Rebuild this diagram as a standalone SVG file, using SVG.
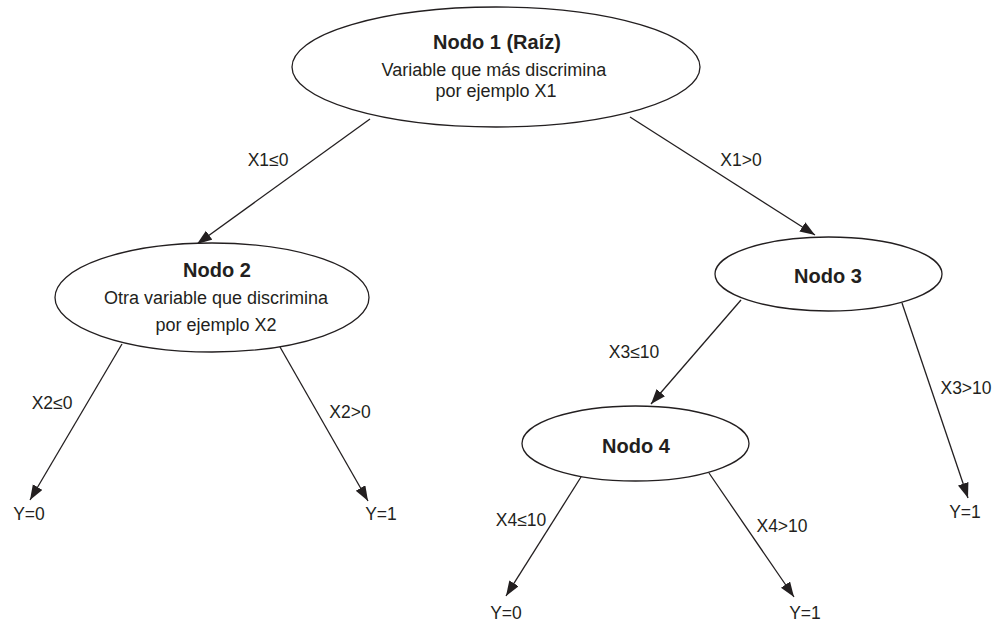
<svg xmlns="http://www.w3.org/2000/svg" width="995" height="625" viewBox="0 0 995 625">
<style>
.node ellipse{fill:#fff;stroke:#231f20;stroke-width:1.3}
text{font-family:"Liberation Sans",Arial,sans-serif;fill:#231f20;text-anchor:middle}
.t{font-size:20px;font-weight:bold}
.s{font-size:18px}
.lbl{font-size:17.5px}
#edges line{stroke:#231f20;stroke-width:1.3;marker-end:url(#arr)}
</style>
<defs>
<marker id="arr" markerUnits="userSpaceOnUse" markerWidth="16" markerHeight="12" refX="15" refY="5.5" orient="auto">
<path d="M0,0 L15,5.5 L0,11 Z" fill="#231f20"/>
</marker>
</defs>
<rect width="995" height="625" fill="#fff"/>
<g id="edges">
<line x1="370" y1="119" x2="197" y2="244"/>
<line x1="630" y1="117" x2="815" y2="235"/>
<line x1="122" y1="344" x2="30" y2="500"/>
<line x1="280" y1="347" x2="368" y2="501"/>
<line x1="741" y1="300" x2="651" y2="404"/>
<line x1="902" y1="303" x2="968" y2="498"/>
<line x1="581" y1="477" x2="506" y2="596"/>
<line x1="709" y1="473" x2="794" y2="597"/>
<text class="lbl" x="268" y="166">X1≤0</text>
<text class="lbl" x="741" y="166">X1&gt;0</text>
<text class="lbl" x="52" y="409">X2≤0</text>
<text class="lbl" x="350" y="418">X2&gt;0</text>
<text class="lbl" x="634" y="358">X3≤10</text>
<text class="lbl" x="966" y="394">X3&gt;10</text>
<text class="lbl" x="521" y="526">X4≤10</text>
<text class="lbl" x="782" y="532">X4&gt;10</text>
</g>
<g id="node1" class="node">
<ellipse cx="496" cy="67" rx="204" ry="60"/>
<text class="t" x="497" y="49">Nodo 1 (Raíz)</text>
<text class="s" x="494" y="76">Variable que más discrimina</text>
<text class="s" x="496" y="97">por ejemplo X1</text>
</g>
<g id="node2" class="node">
<ellipse cx="212" cy="297.5" rx="157" ry="54.5"/>
<text class="t" x="217" y="277">Nodo 2</text>
<text class="s" x="216" y="304">Otra variable que discrimina</text>
<text class="s" x="216" y="331">por ejemplo X2</text>
</g>
<g id="node3" class="node">
<ellipse cx="828.5" cy="274" rx="113.5" ry="37"/>
<text class="t" x="828" y="283">Nodo 3</text>
</g>
<g id="node4" class="node">
<ellipse cx="635.5" cy="443.5" rx="113.5" ry="37.5"/>
<text class="t" x="636" y="453">Nodo 4</text>
</g>
<g id="leaf1"><text class="lbl" x="29" y="520">Y=0</text></g>
<g id="leaf2"><text class="lbl" x="381" y="520">Y=1</text></g>
<g id="leaf3"><text class="lbl" x="965" y="518">Y=1</text></g>
<g id="leaf4"><text class="lbl" x="506" y="619">Y=0</text></g>
<g id="leaf5"><text class="lbl" x="805" y="619">Y=1</text></g>
</svg>
